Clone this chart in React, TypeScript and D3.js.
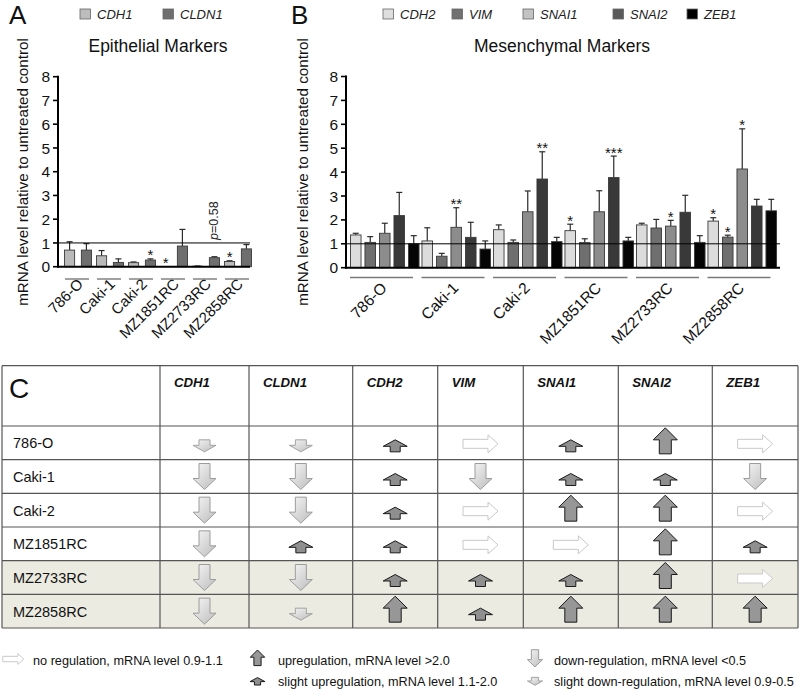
import React from 'react';
import * as d3 from 'd3';

const cellLines = ['786-O', 'Caki-1', 'Caki-2', 'MZ1851RC', 'MZ2733RC', 'MZ2858RC'];
const yTicks = [0, 1, 2, 3, 4, 5, 6, 7, 8];

// Panel A – epithelial markers
const epiGenes = ['CDH1', 'CLDN1'];
const cdh1Mean = [0.70, 0.46, 0.17, 0.0, 0.02, 0.22];
const cdh1Err = [1.05, 0.68, 0.20, 0.0, 0.03, 0.25];
const cdh1Stars = ['', '', '', '*', '', '*'];
const cldn1Mean = [0.70, 0.18, 0.28, 0.87, 0.38, 0.75];
const cldn1Err = [0.97, 0.33, 0.33, 1.57, 0.42, 0.93];
const cldn1Stars = ['', '', '*', '', '', ''];

// Panel B – mesenchymal markers
const mesGenes = ['CDH2', 'VIM', 'SNAI1', 'SNAI2', 'ZEB1'];
const cdh2Mean = [1.37, 1.12, 1.59, 1.55, 1.79, 1.95];
const cdh2Err = [1.44, 1.67, 1.79, 1.82, 1.86, 2.09];
const cdh2Stars = ['', '', '', '*', '', '*'];
const vimMean = [1.06, 0.48, 1.06, 1.05, 1.66, 1.28];
const vimErr = [1.30, 0.60, 1.16, 1.21, 2.02, 1.36];
const vimStars = ['', '', '', '', '', '*'];
const snai1Mean = [1.44, 1.69, 2.34, 2.34, 1.74, 4.13];
const snai1Err = [1.86, 2.51, 3.21, 3.22, 1.98, 5.81];
const snai1Stars = ['', '**', '', '', '*', '*'];
const snai2Mean = [2.18, 1.27, 3.71, 3.77, 2.32, 2.58];
const snai2Err = [3.15, 1.90, 4.85, 4.67, 3.03, 2.86];
const snai2Stars = ['', '', '**', '***', '', ''];
const zeb1Mean = [1.00, 0.78, 1.09, 1.12, 1.06, 2.38];
const zeb1Err = [1.34, 1.12, 1.27, 1.27, 1.34, 2.86];
const zeb1Stars = ['', '', '', '', '', ''];

// Panel C – regulation table
const tableGenes = ['CDH1', 'CLDN1', 'CDH2', 'VIM', 'SNAI1', 'SNAI2', 'ZEB1'];
const reg786O = ['sd', 'sd', 'su', 'n', 'su', 'u', 'n'];
const regCaki1 = ['d', 'd', 'su', 'd', 'su', 'su', 'd'];
const regCaki2 = ['d', 'd', 'su', 'n', 'u', 'u', 'n'];
const regMZ1851 = ['d', 'su', 'su', 'n', 'n', 'u', 'su'];
const regMZ2733 = ['d', 'd', 'su', 'su', 'su', 'u', 'n'];
const regMZ2858 = ['d', 'sd', 'u', 'su', 'u', 'u', 'u'];
const shadedRows = [false, false, false, false, true, true];

const legendKeys = ['n', 'u', 'su', 'd', 'sd'];
const legendLabels = [
  'no regulation, mRNA level 0.9-1.1',
  'upregulation, mRNA level >2.0',
  'slight upregulation, mRNA level 1.1-2.0',
  'down-regulation, mRNA level <0.5',
  'slight down-regulation, mRNA level 0.9-0.5',
];

const FONT = 'Liberation Sans, Arial, Helvetica, sans-serif';

function upPath(cx: number, cy: number, w: number, h: number, hh: number, sw: number) {
  const t = cy - h / 2, b = cy + h / 2;
  return `M${cx},${t}L${cx + w / 2},${t + hh}L${cx + sw / 2},${t + hh}L${cx + sw / 2},${b}L${cx - sw / 2},${b}L${cx - sw / 2},${t + hh}L${cx - w / 2},${t + hh}Z`;
}
function downPath(cx: number, cy: number, w: number, h: number, hh: number, sw: number) {
  const t = cy - h / 2, b = cy + h / 2;
  return `M${cx},${b}L${cx + w / 2},${b - hh}L${cx + sw / 2},${b - hh}L${cx + sw / 2},${t}L${cx - sw / 2},${t}L${cx - sw / 2},${b - hh}L${cx - w / 2},${b - hh}Z`;
}
function rightPath(cx: number, cy: number, len: number, h: number, hl: number, sh: number) {
  const l = cx - len / 2, r = cx + len / 2;
  return `M${r},${cy}L${r - hl},${cy - h / 2}L${r - hl},${cy - sh / 2}L${l},${cy - sh / 2}L${l},${cy + sh / 2}L${r - hl},${cy + sh / 2}L${r - hl},${cy + h / 2}Z`;
}

function Arrow({ kind, cx, cy, s = 1 }: { kind: string; cx: number; cy: number; s?: number }) {
  if (kind === 'u')
    return <path d={upPath(cx, cy, 24 * s, 26 * s, 12 * s, 12 * s)} fill="#979797" stroke="#1a1a1a" strokeWidth={1} />;
  if (kind === 'su')
    return <path d={upPath(cx, cy, 24 * s, 12 * s, 6.5 * s, 10 * s)} fill="#8f8f8f" stroke="#1a1a1a" strokeWidth={1} />;
  if (kind === 'd')
    return <path d={downPath(cx, cy, 23 * s, 26 * s, 11 * s, 11 * s)} fill="url(#downGrad)" stroke="#9c9c9c" strokeWidth={1} />;
  if (kind === 'sd')
    return <path d={downPath(cx, cy, 23 * s, 12 * s, 6.5 * s, 11 * s)} fill="url(#downGrad)" stroke="#a2a2a2" strokeWidth={1} />;
  return <path d={rightPath(cx, cy, 35 * s, 18 * s, 10 * s, 9 * s)} fill="#ffffff" stroke="#c9c9c9" strokeWidth={1} />;
}

export default function App() {
  // ---------- Panel A ----------
  const yA = d3.scaleLinear().domain([0, 8]).range([266.7, 76.7]);
  const xA = d3.scaleBand<string>().domain(cellLines).range([62, 254]);
  const xAin = d3.scaleBand<string>().domain(epiGenes).range([0, xA.bandwidth()]).paddingInner(0.4).paddingOuter(0.15);
  const epiSeries = [
    { gene: 'CDH1', mean: cdh1Mean, err: cdh1Err, stars: cdh1Stars },
    { gene: 'CLDN1', mean: cldn1Mean, err: cldn1Err, stars: cldn1Stars },
  ];
  const epiFill: Record<string, string> = { CDH1: '#b9b9b9', CLDN1: '#6e6e6e' };
  const epiLegendFill: Record<string, string> = { CDH1: '#bdbdbd', CLDN1: '#6f6f6f' };

  // ---------- Panel B ----------
  const yB = d3.scaleLinear().domain([0, 8]).range([267.7, 76.5]);
  const xB = d3.scaleBand<string>().domain(cellLines).range([349, 778]);
  const xBin = d3.scaleBand<string>().domain(mesGenes).range([0, xB.bandwidth()]).paddingInner(0.27).paddingOuter(0.1);
  const mesSeries = [
    { gene: 'CDH2', mean: cdh2Mean, err: cdh2Err, stars: cdh2Stars },
    { gene: 'VIM', mean: vimMean, err: vimErr, stars: vimStars },
    { gene: 'SNAI1', mean: snai1Mean, err: snai1Err, stars: snai1Stars },
    { gene: 'SNAI2', mean: snai2Mean, err: snai2Err, stars: snai2Stars },
    { gene: 'ZEB1', mean: zeb1Mean, err: zeb1Err, stars: zeb1Stars },
  ];
  const mesFill: Record<string, string> = { CDH2: '#dcdcdc', VIM: '#6f6f6f', SNAI1: '#8c8c8c', SNAI2: '#393939', ZEB1: '#050505' };
  const mesLegendFill: Record<string, string> = { CDH2: '#dedede', VIM: '#707070', SNAI1: '#c3c3c3', SNAI2: '#5a5a5a', ZEB1: '#000000' };
  const mesLegendX = [383, 452, 523, 613, 687];

  // ---------- Table ----------
  const colEdges = [2, 160, 249, 352.7, 437.7, 523.3, 618.3, 712.3, 798];
  const tableTop = 365.7;
  const headerBottom = 426;
  const rowScale = d3.scaleBand<string>().domain(cellLines).range([headerBottom, 628]);
  const regRows = [reg786O, regCaki1, regCaki2, regMZ1851, regMZ2733, regMZ2858];

  const renderBars = (
    series: { gene: string; mean: number[]; err: number[]; stars: string[] }[],
    xOut: d3.ScaleBand<string>,
    xIn: d3.ScaleBand<string>,
    y: d3.ScaleLinear<number, number>,
    fills: Record<string, string>,
    starOffset: number
  ) =>
    series.map((s) =>
      cellLines.map((c, i) => {
        const x0 = (xOut(c) as number) + (xIn(s.gene) as number);
        const bw = xIn.bandwidth();
        const cx = x0 + bw / 2;
        const top = y(s.mean[i]);
        const et = y(s.err[i]);
        return (
          <g key={s.gene + c}>
            {s.err[i] > s.mean[i] + 0.005 && (
              <g stroke="#2a2a2a" strokeWidth={1.2}>
                <line x1={cx} x2={cx} y1={top} y2={et} />
                <line x1={cx - 3} x2={cx + 3} y1={et} y2={et} />
              </g>
            )}
            {s.mean[i] > 0.005 && (
              <rect x={x0} y={top} width={bw} height={y(0) - top} fill={fills[s.gene]} stroke="#3a3a3a" strokeWidth={0.9} />
            )}
            {s.stars[i] && (
              <text x={cx} y={Math.min(et, top) + starOffset} textAnchor="middle" fontSize={15} fontFamily={FONT} fill="#111">
                {s.stars[i]}
              </text>
            )}
          </g>
        );
      })
    );

  return (
    <svg width={800} height={696} style={{ position: 'absolute', left: 0, top: 0, background: '#fff' }} fontFamily={FONT}>
      <defs>
        <linearGradient id="downGrad" x1="0" y1="0" x2="1" y2="1">
          <stop offset="0" stopColor="#f7f7f7" />
          <stop offset="1" stopColor="#bcbcbc" />
        </linearGradient>
      </defs>
      <rect x={0} y={0} width={800} height={696} fill="#fff" />

      {/* ================= Panel A ================= */}
      <text x={9} y={24} fontSize={26} fill="#111">A</text>
      {epiGenes.map((g, i) => (
        <g key={g}>
          <rect x={i === 0 ? 80 : 163} y={9} width={10.5} height={10} fill={epiLegendFill[g]} stroke="#666" strokeWidth={0.8} />
          <text x={(i === 0 ? 80 : 163) + 17} y={18.5} fontSize={13} fontStyle="italic" fill="#222">{g}</text>
        </g>
      ))}
      <text x={158} y={52} textAnchor="middle" fontSize={17.5} fill="#111">Epithelial Markers</text>
      <text transform="translate(28,172) rotate(-90)" textAnchor="middle" fontSize={15.2} fill="#111">
        mRNA level relative to untreated control
      </text>
      {yTicks.map((t) => (
        <g key={t}>
          <line x1={53} x2={58} y1={yA(t)} y2={yA(t)} stroke="#000" strokeWidth={1.6} />
          <text x={50} y={yA(t)} dy="0.36em" textAnchor="end" fontSize={15.5} fill="#111">{t}</text>
        </g>
      ))}
      <line x1={58} x2={58} y1={yA(8) - 1} y2={yA(0) + 1} stroke="#000" strokeWidth={2} />
      {renderBars(epiSeries, xA, xAin, yA, epiFill, 1)}
      <line x1={58} x2={250} y1={yA(1)} y2={yA(1)} stroke="#000" strokeWidth={1} />
      <line x1={57} x2={250} y1={yA(0)} y2={yA(0)} stroke="#000" strokeWidth={2} />
      <text
        transform={`translate(${(xA('MZ2733RC') as number) + (xAin('CLDN1') as number) + xAin.bandwidth() / 2 + 4},${yA(1) - 3}) rotate(-90)`}
        fontSize={12.5}
        fill="#222"
      >
        <tspan fontStyle="italic">p</tspan>=0.58
      </text>
      {cellLines.map((c) => {
        const cx = (xA(c) as number) + xA.bandwidth() / 2;
        return (
          <g key={c}>
            <line x1={cx - 13} x2={cx + 11} y1={279} y2={279} stroke="#7a7a7a" strokeWidth={1.4} />
            <text transform={`translate(${cx + 6},${285}) rotate(-45)`} textAnchor="end" fontSize={15} fill="#111">{c}</text>
          </g>
        );
      })}

      {/* ================= Panel B ================= */}
      <text x={291} y={24} fontSize={26} fill="#111">B</text>
      {mesGenes.map((g, i) => (
        <g key={g}>
          <rect x={mesLegendX[i]} y={9} width={10.5} height={10} fill={mesLegendFill[g]} stroke="#666" strokeWidth={0.8} />
          <text x={mesLegendX[i] + 17} y={18.5} fontSize={13} fontStyle="italic" fill="#222">{g}</text>
        </g>
      ))}
      <text x={562} y={52} textAnchor="middle" fontSize={17.5} fill="#111">Mesenchymal Markers</text>
      <text transform="translate(308,172) rotate(-90)" textAnchor="middle" fontSize={15.2} fill="#111">
        mRNA level relative to untreated control
      </text>
      {yTicks.map((t) => (
        <g key={t}>
          <line x1={341} x2={346} y1={yB(t)} y2={yB(t)} stroke="#000" strokeWidth={1.6} />
          <text x={338} y={yB(t)} dy="0.36em" textAnchor="end" fontSize={15.5} fill="#111">{t}</text>
        </g>
      ))}
      <line x1={346} x2={346} y1={yB(8) - 1} y2={yB(0) + 1} stroke="#000" strokeWidth={2} />
      {renderBars(mesSeries, xB, xBin, yB, mesFill, 1.5)}
      <line x1={346} x2={780} y1={yB(1)} y2={yB(1)} stroke="#000" strokeWidth={1} />
      <line x1={345} x2={780} y1={yB(0)} y2={yB(0)} stroke="#000" strokeWidth={2} />
      {cellLines.map((c) => {
        const x0 = xB(c) as number;
        const cx = x0 + xB.bandwidth() / 2;
        return (
          <g key={c}>
            <line x1={x0 + 1} x2={x0 + 64} y1={277.5} y2={277.5} stroke="#7a7a7a" strokeWidth={1.4} />
            <text transform={`translate(${cx + 3},${289}) rotate(-45)`} textAnchor="end" fontSize={15.5} fill="#111">{c}</text>
          </g>
        );
      })}

      {/* ================= Panel C ================= */}
      {cellLines.map((c, i) =>
        shadedRows[i] ? (
          <rect key={c} x={colEdges[0]} y={rowScale(c) as number} width={colEdges[8] - colEdges[0]} height={rowScale.bandwidth()} fill="#ecebe1" />
        ) : null
      )}
      <g stroke="#555" strokeWidth={1.2}>
        {colEdges.map((x, i) => (
          <line key={'v' + i} x1={x} x2={x} y1={tableTop} y2={628} />
        ))}
        <line x1={colEdges[0]} x2={colEdges[8]} y1={tableTop} y2={tableTop} />
        <line x1={colEdges[0]} x2={colEdges[8]} y1={headerBottom} y2={headerBottom} />
        {cellLines.map((c) => (
          <line key={'h' + c} x1={colEdges[0]} x2={colEdges[8]} y1={(rowScale(c) as number) + rowScale.bandwidth()} y2={(rowScale(c) as number) + rowScale.bandwidth()} />
        ))}
      </g>
      <text x={9} y={398} fontSize={28} fill="#111">C</text>
      {tableGenes.map((g, j) => (
        <text key={g} x={colEdges[j + 1] + 14} y={387} fontSize={13.2} fontWeight="bold" fontStyle="italic" fill="#111">{g}</text>
      ))}
      {cellLines.map((c, i) => {
        const rc = (rowScale(c) as number) + rowScale.bandwidth() / 2;
        return (
          <g key={c}>
            <text x={13} y={rc + 5.5} fontSize={14.5} fill="#111">{c}</text>
            {regRows[i].map((k, j) => {
              const cx = (colEdges[j + 1] + colEdges[j + 2]) / 2;
              const dy = k === 'u' ? -2 : k === 'su' || k === 'sd' ? 3 : k === 'n' ? 1 : 0;
              return <Arrow key={j} kind={k} cx={cx} cy={rc + dy} />;
            })}
          </g>
        );
      })}

      {/* Legend */}
      <Arrow kind={legendKeys[0]} cx={13.3} cy={659} s={0.6} />
      <text x={33} y={664.5} fontSize={12.7} fill="#111">{legendLabels[0]}</text>
      <Arrow kind={legendKeys[1]} cx={257.5} cy={657.8} s={0.6} />
      <text x={278} y={664.5} fontSize={12.7} fill="#111">{legendLabels[1]}</text>
      <Arrow kind={legendKeys[2]} cx={257.5} cy={681.3} s={0.62} />
      <text x={278} y={685.5} fontSize={12.7} fill="#111">{legendLabels[2]}</text>
      <Arrow kind={legendKeys[3]} cx={535} cy={658.3} s={0.66} />
      <text x={554} y={664.5} fontSize={12.7} fill="#111">{legendLabels[3]}</text>
      <Arrow kind={legendKeys[4]} cx={535} cy={681.3} s={0.66} />
      <text x={554} y={685.5} fontSize={12.7} fill="#111">{legendLabels[4]}</text>
    </svg>
  );
}
